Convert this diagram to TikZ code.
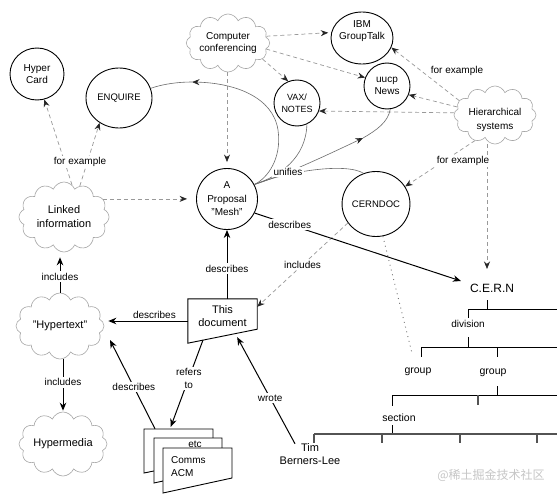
\documentclass[tikz,border=0pt]{standalone}
\usepackage{fontspec}
\setmainfont{Liberation Sans}
\newfontfamily\cjkfont{Noto Sans CJK SC}
\usetikzlibrary{shapes.geometric,shapes.symbols,arrows.meta}
\tikzset{
  every node/.style={align=center, inner sep=0pt, font=\fontsize{10}{12.5}\selectfont},
  circ/.style={ellipse, draw=black, line width=0.9pt},
  cloudy/.style={cloud, cloud puffs=12, cloud puff arc=135, cloud ignores aspect, draw=gray!70, line width=0.6pt},
  bigtxt/.style={font=\fontsize{11}{14}\selectfont},
  lbl/.style={fill=white, inner sep=1.5pt},
  dasharr/.style={draw=gray!80, line width=0.7pt, dash pattern=on 4pt off 3pt, -{Stealth[length=7.5pt,width=6pt,inset=2.5pt,color=black!85]}},
  solidarr/.style={draw=black, line width=1pt, -{Stealth[length=8pt,width=6.5pt,inset=2.5pt]}},
  unify/.style={draw=gray!85!black, line width=0.6pt},
  unifyarr/.style={unify, -{Stealth[length=7.5pt,width=6pt,inset=2.5pt,color=black!85]}},
  dotline/.style={draw=gray!90!black, line width=0.9pt, dash pattern=on 0.9pt off 4pt},
  treeline/.style={draw=black, line width=0.9pt},
  treebase/.style={draw=gray!65!black, line width=1.3pt},
  sheet/.style={draw=black, line width=0.9pt, fill=white},
}
\begin{document}
\begin{tikzpicture}[x=1pt,y=-1pt]
\useasboundingbox (0,0) rectangle (557,495);
\fill[white] (0,0) rectangle (557,495);

% ---------- nodes ----------
\node[circ, minimum width=54pt, minimum height=52pt] (hyper) at (37,74) {Hyper\\Card};
\node[circ, minimum width=66pt, minimum height=60pt, font=\fontsize{9.5}{12}\selectfont] (enq) at (119,98) {ENQUIRE};
\node[cloudy, minimum width=80pt, minimum height=58pt] (conf) at (228,43) {Computer\\conferencing};
\node[circ, minimum width=62pt, minimum height=52pt,
      label={[yshift=7pt, font=\fontsize{10}{12.5}\selectfont]center:IBM\\GroupTalk}] (ibm) at (362,38) {};
\node[circ, minimum size=46pt, font=\fontsize{9}{12}\selectfont] (vax) at (297,103) {VAX/\\NOTES};
\node[circ, minimum size=46pt] (uucp) at (387,86) {uucp\\News};
\node[cloudy, minimum width=82pt, minimum height=58pt,
      label={[yshift=-5pt, font=\fontsize{10}{13.5}\selectfont]center:Hierarchical\\systems}] (hier) at (495,115) {};
\node[cloudy, bigtxt, minimum width=90pt, minimum height=70pt] (linked) at (64,217) {Linked\\information};
\node[circ, minimum size=61pt, font=\fontsize{10}{13.5}\selectfont] (mesh) at (227,199) {A\\Proposal\\"Mesh"};
\node[circ, minimum width=67pt, minimum height=65pt, font=\fontsize{9.5}{12}\selectfont] (cerndoc) at (376,204) {CERNDOC};
\node[font=\fontsize{12}{14}\selectfont] (cern) at (492,288) {C.E.R.N};
\node[cloudy, bigtxt, minimum width=88pt, minimum height=66pt] (hypertext) at (60,326) {"Hypertext"};
\node[cloudy, bigtxt, minimum width=88pt, minimum height=64pt] (hypermedia) at (63,444) {Hypermedia};

% This document
\node[minimum width=69pt, minimum height=44pt,
      label={[yshift=4.5pt, font=\fontsize{11}{13}\selectfont]center:This\\document}] (doc) at (222.5,321) {};
\draw[line width=0.9pt] (doc.north west) -- (doc.north east) -- ([yshift=14pt]doc.south east) -- (doc.south west) -- cycle;

% stack of documents
\node[minimum width=69pt, minimum height=44pt] (stack) at (178.5,451) {};
\draw[sheet] (144,429) -- (213,429) -- (213,459) -- (144,473) -- cycle;
\draw[sheet] (154,438) -- (222,438) -- (222,468) -- (154,483) -- cycle;
\node (etc) at (195,444) {etc};
\draw[sheet] (163,448) -- (232,448) -- (232,478) -- (163,493) -- cycle;
\node[anchor=west, align=left, font=\fontsize{10}{12.5}\selectfont] (acm) at (171,466.5) {Comms\\ACM};

\node[bigtxt, font=\fontsize{11}{13}\selectfont] (tim) at (310,454.5) {Tim\\Berners-Lee};

% tree labels
\node (division) at (468,324) {division};
\node[font=\fontsize{10.5}{12.5}\selectfont] (group1) at (418,372) {group};
\node[font=\fontsize{10.5}{12.5}\selectfont] (group2) at (493,373) {group};
\node[font=\fontsize{10.5}{12.5}\selectfont] (section) at (399,418) {section};

% helper coordinates (free ends)
\coordinate (cerntop) at (487,269);
\coordinate (cernarr) at (461,281);
\coordinate (grpdot) at (412,353);
\coordinate (htip) at (110,340);
\coordinate (docref) at (203,340);
\coordinate (enqmid) at (192,82);
\coordinate (uucpmid) at (363,138);

% ---------- dashed "for example" links ----------
\draw[dasharr] (linked.76) -- (hyper.-74);
\draw[dasharr] (linked.63) -- (enq.-128);
\node[lbl] (fe1) at (80,162) {for example};
\draw[dasharr, shorten >=9pt] (linked.25) -- (linked.25 -| mesh.west);
\draw[dasharr, shorten >=6pt] (mesh.north |- conf.south) -- (mesh.north);
\draw[dasharr, shorten >=3pt] (conf.10) -- (ibm.170);
\draw[dasharr] (conf.-9) -- (uucp.159);
\draw[dasharr] (conf.-25) -- (vax.112);
\draw[dasharr] (hier.158) -- (ibm.-18);
\node[lbl] (fe2) at (457,71) {for example};
\draw[dasharr] (hier.168) -- (uucp.-22);
\draw[dasharr] (hier.177) -- (vax.-20);
\draw[dasharr] (hier.-128) -- (cerndoc.31);
\draw[dasharr] (hier.south -| cerntop) -- (cerntop);
\node[lbl] (fe3) at (463,161) {for example};
\draw[dasharr] (cerndoc.-146) -- ([yshift=-8pt]doc.north east) node[lbl, pos=0.5] {includes};
\draw[dotline] (cerndoc.-78) -- (grpdot);

% ---------- unifies ----------
\draw[unifyarr] (mesh.28) .. controls (268,178) and (282,158) .. (278,130)
                .. controls (273,97) and (235,83) .. (enqmid);
\draw[unify] (enqmid) .. controls (178,82) and (163,84) .. (enq.17);
\draw[unify] (mesh.28) .. controls (280,176) and (306,158) .. (vax.-65);
\draw[unifyarr] (mesh.28) .. controls (275,178) and (300,168) .. (uucpmid);
\draw[unify] (uucpmid) .. controls (377,130) and (388,122) .. (uucp.-82);
\draw[unify] (mesh.28) .. controls (285,172) and (345,162) .. (cerndoc.112);
\node[lbl] (unif) at (288,172) {unifies};

% ---------- solid links ----------
\draw[solidarr] (mesh.-27) -- (cernarr) node[lbl, pos=0.17] {describes};
\draw[solidarr] (mesh.south |- doc.north) -- (mesh.south) node[lbl, pos=0.44] {describes};
\draw[solidarr, shorten >=4pt] (doc.west) -- (doc.west -| hypertext.east) node[above=1.5pt, pos=0.4] {describes};
\draw[solidarr, shorten >=5pt] (hypertext.north) -- (hypertext.north |- linked.south) node[lbl, pos=0.4] {includes};
\draw[solidarr, shorten >=1pt] (hypermedia.north |- hypertext.south) -- (hypermedia.north) node[lbl, pos=0.44] {includes};
\draw[solidarr] ([xshift=-23.5pt]stack.north) -- (htip) node[lbl, pos=0.47] {describes};
\draw[solidarr, shorten >=2pt] (docref) -- ([xshift=-8.5pt]stack.north) node[lbl, pos=0.43, font=\fontsize{10}{13}\selectfont] {refers\\to};
\draw[solidarr] ([xshift=-15pt]tim.north) -- ([xshift=-20pt, yshift=6pt]doc.south east) node[lbl, pos=0.43] {wrote};

% ---------- hierarchy tree ----------
\draw[treeline] (487,300) -- (487,309);
\draw[treeline] (468,309) -- (557,309);
\draw[treeline] (468,309) -- (468,318);
\draw[treeline] (468,337) -- (468,347);
\draw[treeline] (421,347) -- (557,347);
\draw[treeline] (421,347) -- (421,357);
\draw[treeline] (497,347) -- (497,357);
\draw[treeline] (497,386) -- (497,395);
\draw[treeline] (392,395) -- (557,395);
\draw[treeline] (392,395) -- (392,406);
\draw[treebase] (478,395) -- (478,405);
\draw[treeline] (392,425) -- (392,434);
\draw[treebase] (314,434) -- (557,434);
\draw[treebase] (314,434) -- (314,443);
\draw[treebase] (382,434) -- (382,443);
\draw[treebase] (460,434) -- (460,443);
\draw[treebase] (537,434) -- (537,443);

% watermark
\node[text=gray!45, font=\cjkfont\fontsize{12}{14}\selectfont] (wm) at (491,475) {@稀土掘金技术社区};
\end{tikzpicture}
\end{document}
